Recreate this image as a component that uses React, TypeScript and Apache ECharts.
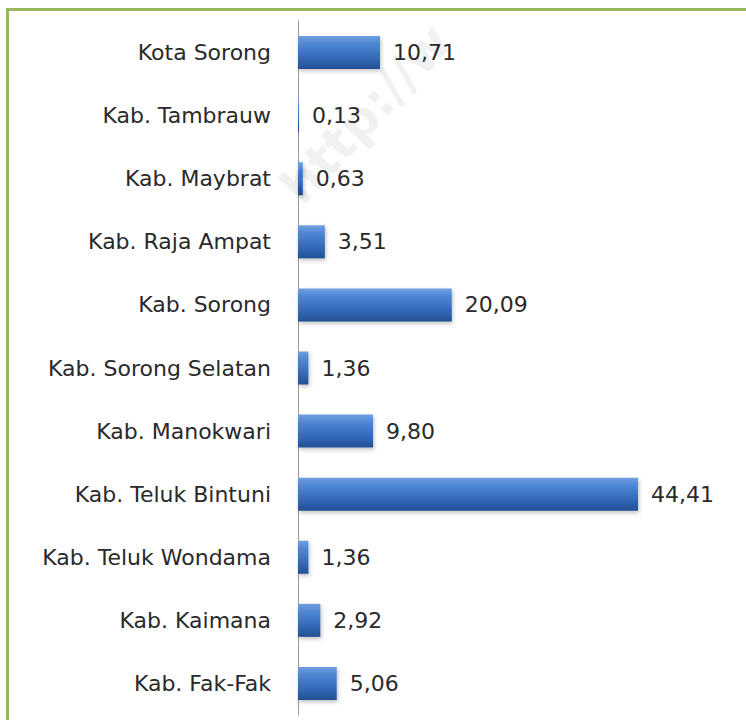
import React, { useEffect, useRef } from "react";
import * as echarts from "echarts";

const categories = [
  "Kota Sorong",
  "Kab. Tambrauw",
  "Kab. Maybrat",
  "Kab. Raja Ampat",
  "Kab. Sorong",
  "Kab. Sorong Selatan",
  "Kab. Manokwari",
  "Kab. Teluk Bintuni",
  "Kab. Teluk Wondama",
  "Kab. Kaimana",
  "Kab. Fak-Fak",
];
const values = [10.71, 0.13, 0.63, 3.51, 20.09, 1.36, 9.8, 44.41, 1.36, 2.92, 5.06];

export default function App() {
  const ref = useRef<HTMLDivElement>(null);
  useEffect(() => {
    if (!ref.current) return;
    const chart = echarts.init(ref.current, null, { renderer: "svg" });
    chart.setOption({
      animation: false,
      backgroundColor: "#ffffff",
      graphic: [
        {
          type: "rect",
          shape: { x: 7.5, y: 9.5, width: 760, height: 720 },
          style: { fill: "none", stroke: "#9bb75e", lineWidth: 3 },
          silent: true,
          z: 0,
        },
        {
          type: "text",
          x: 272,
          y: 178,
          rotation: (47 * Math.PI) / 180,
          style: {
            text: "http://w",
            fill: "rgba(0,0,0,0.055)",
            font: "bold 50px 'DejaVu Sans'",
          },
          silent: true,
          z: 10,
        },
      ],
      grid: { left: 298, top: 21, width: 340, height: 694, containLabel: false },
      xAxis: {
        type: "value",
        min: 0,
        max: "dataMax",
        show: false,
      },
      yAxis: {
        type: "category",
        data: categories,
        inverse: true,
        axisLine: { show: true, lineStyle: { color: "#9a9a9a", width: 1 } },
        axisTick: { show: false },
        axisLabel: {
          margin: 27,
          color: "#2a2a2a",
          fontSize: 22,
          fontFamily: "DejaVu Sans",
        },
      },
      series: [
        {
          type: "bar",
          data: values,
          barWidth: 33,
          itemStyle: {
            color: new echarts.graphic.LinearGradient(0, 0, 0, 1, [
              { offset: 0, color: "#6f9fe0" },
              { offset: 0.25, color: "#4d86d3" },
              { offset: 0.7, color: "#3167b6" },
              { offset: 1, color: "#234f92" },
            ]),
            shadowColor: "rgba(0,0,0,0.25)",
            shadowBlur: 4,
            shadowOffsetX: 1,
            shadowOffsetY: 2,
          },
          label: {
            show: true,
            position: "right",
            distance: 13,
            color: "#2a2a2a",
            fontSize: 22,
            fontFamily: "DejaVu Sans",
            formatter: (p: any) => p.value.toFixed(2).replace(".", ","),
          },
        },
      ],
    });
    return () => chart.dispose();
  }, []);
  return (
    <div
      ref={ref}
      style={{ position: "fixed", left: 0, top: 0, width: 746, height: 720 }}
    />
  );
}
